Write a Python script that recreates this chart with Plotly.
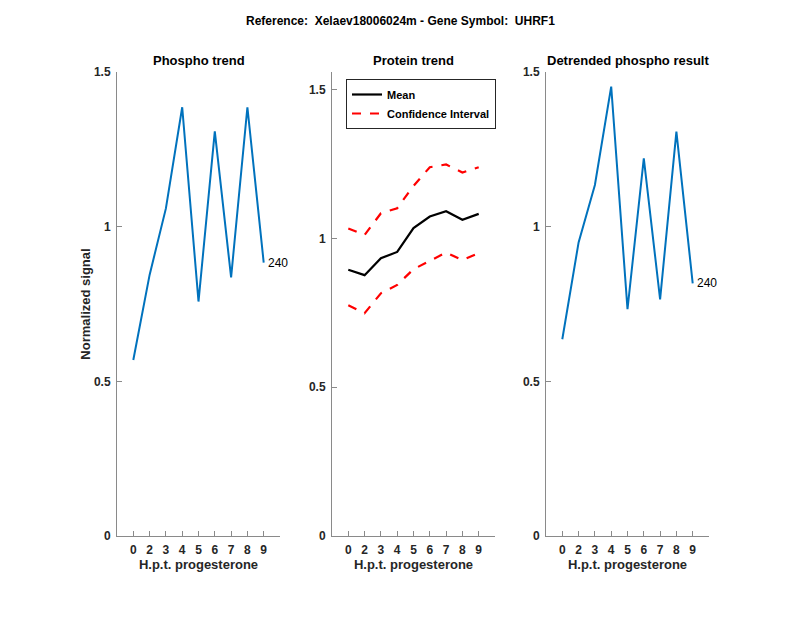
import plotly.graph_objects as go

categories = ["0", "2", "3", "4", "5", "6", "7", "8", "9"]
phospho = [0.569, 0.844, 1.059, 1.386, 0.758, 1.308, 0.836, 1.386, 0.884]
protein_mean = [0.895, 0.877, 0.934, 0.955, 1.035, 1.074, 1.092, 1.063, 1.083]
protein_upper = [1.034, 1.012, 1.085, 1.102, 1.177, 1.240, 1.249, 1.222, 1.240]
protein_lower = [0.776, 0.749, 0.816, 0.844, 0.897, 0.926, 0.953, 0.928, 0.951]
detrended = [0.636, 0.949, 1.135, 1.453, 0.733, 1.221, 0.765, 1.307, 0.817]
site_label = "240"

OFF = 8  # page body margin
W, H = 800 - 2 * OFF, 618 - 2 * OFF
FONT = "Liberation Sans, Arial, Helvetica, sans-serif"
TXT = "#262626"
AX = "#8a8a8a"
BLUE = "#0072BD"

fig = go.Figure()

fig.add_trace(go.Scatter(x=categories, y=phospho, mode="lines",
                         line=dict(color=BLUE, width=2), showlegend=False,
                         xaxis="x", yaxis="y"))
fig.add_trace(go.Scatter(x=categories, y=protein_mean, mode="lines", name="Mean",
                         line=dict(color="black", width=2.2), xaxis="x2", yaxis="y2"))
fig.add_trace(go.Scatter(x=categories, y=protein_upper, mode="lines", name="Confidence Interval",
                         line=dict(color="#FF0000", width=2.2, dash="dash"), xaxis="x2", yaxis="y2"))
fig.add_trace(go.Scatter(x=categories, y=protein_lower, mode="lines", name="Confidence Interval",
                         line=dict(color="#FF0000", width=2.2, dash="dash"), showlegend=False,
                         xaxis="x2", yaxis="y2"))
fig.add_trace(go.Scatter(x=categories, y=detrended, mode="lines",
                         line=dict(color=BLUE, width=2), showlegend=False,
                         xaxis="x3", yaxis="y3"))

def px_x(p):
    return (p - OFF) / W

def px_y(p):
    return 1 - (p - OFF) / H

y0, y1 = px_y(536), px_y(72)
doms = [(px_x(117), px_x(280)), (px_x(332), px_x(495)), (px_x(546), px_x(709))]
yranges = [[0, 1.5], [0, 1.56], [0, 1.5]]

tickfont = dict(family=FONT, size=12, color=TXT, weight="bold")
for i, (d, yr) in enumerate(zip(doms, yranges)):
    sx = "" if i == 0 else str(i + 1)
    fig.layout["xaxis" + sx] = dict(
        domain=list(d), type="category", categoryorder="array", categoryarray=categories,
        range=[-1, 9], anchor="y" + sx, showline=True, linecolor=AX, linewidth=1,
        ticks="inside", ticklen=5, tickcolor=AX, showgrid=False, zeroline=False,
        tickfont=tickfont, mirror=False, automargin=False, ticklabelstandoff=3,
        title=dict(text="H.p.t. progesterone", font=dict(family=FONT, size=13, color=TXT, weight="bold"),
                   standoff=2),
    )
    fig.layout["yaxis" + sx] = dict(
        domain=[y0, y1], range=yr, anchor="x" + sx, showline=True, linecolor=AX, linewidth=1,
        ticks="inside", ticklen=5, tickcolor=AX, showgrid=False, zeroline=False,
        tickvals=[0, 0.5, 1, 1.5], ticktext=["0", "0.5", "1", "1.5"],
        tickfont=tickfont, mirror=False, automargin=False, ticklabelstandoff=3,
    )

fig.layout.yaxis.title = dict(text="Normalized signal",
                              font=dict(family=FONT, size=13, color=TXT, weight="bold"), standoff=0)

titles = ["Phospho trend", "Protein trend", "Detrended phospho result"]
annotations = []
for d, t in zip(doms, titles):
    annotations.append(dict(text=t, x=(d[0] + d[1]) / 2, y=px_y(61), xref="paper", yref="paper",
                            xanchor="center", yanchor="middle", showarrow=False,
                            font=dict(family=FONT, size=13, color="black", weight="bold")))
annotations.append(dict(text="Reference:  Xelaev18006024m - Gene Symbol:  UHRF1", x=px_x(400),
                        y=px_y(21), xref="paper", yref="paper", xanchor="center", yanchor="middle",
                        showarrow=False, font=dict(family=FONT, size=12, color="black", weight="bold")))
last_idx = len(categories) - 1
annotations.append(dict(text=site_label, x=last_idx, y=phospho[-1], xref="x", yref="y",
                        xanchor="left", yanchor="middle", xshift=2, showarrow=False,
                        font=dict(family=FONT, size=12, color="black")))
annotations.append(dict(text=site_label, x=last_idx, y=detrended[-1], xref="x3", yref="y3",
                        xanchor="left", yanchor="middle", xshift=2, showarrow=False,
                        font=dict(family=FONT, size=12, color="black")))

fig.update_layout(
    template="none",
    width=W, height=H, margin=dict(l=0, r=0, t=0, b=0, pad=0),
    paper_bgcolor="white", plot_bgcolor="white",
    annotations=annotations,
    legend=dict(x=px_x(346), y=px_y(79), xanchor="left", yanchor="top",
                bgcolor="white", bordercolor="#262626", borderwidth=1,
                font=dict(family=FONT, size=11, color="black", weight="bold"),
                tracegroupgap=0, itemwidth=30),
    showlegend=True,
)

fig.write_html("out.html")
